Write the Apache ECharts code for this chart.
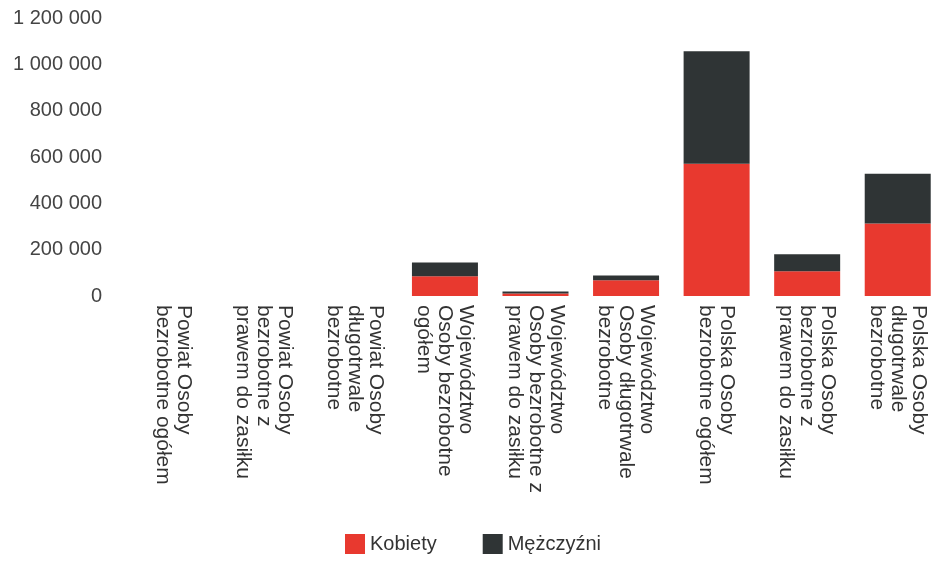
<!DOCTYPE html>
<html lang="pl">
  <head>
    <meta charset="UTF-8" />
    <title>Bezrobotni</title>
    <style>
      * {
        margin: 0;
        padding: 0;
      }
      body {
        background: #fff;
      }
      #chart {
        width: 931px;
        height: 564px;
      }
    </style>
    <script src="https://cdn.jsdelivr.net/npm/echarts@6/dist/echarts.min.js"></script>
  </head>
  <body>
    <div id="chart"></div>
    <script>
      const categories = [
        "Powiat Osoby\nbezrobotne ogółem",
        "Powiat Osoby\nbezrobotne z\nprawem do zasiłku",
        "Powiat Osoby\ndługotrwale\nbezrobotne",
        "Województwo\nOsoby bezrobotne\nogółem",
        "Województwo\nOsoby bezrobotne z\nprawem do zasiłku",
        "Województwo\nOsoby długotrwale\nbezrobotne",
        "Polska Osoby\nbezrobotne ogółem",
        "Polska Osoby\nbezrobotne z\nprawem do zasiłku",
        "Polska Osoby\ndługotrwale\nbezrobotne",
      ];
      const kobiety = [200, 60, 120, 85000, 11000, 68000, 571000, 107000, 313000];
      const mezczyzni = [150, 40, 90, 60000, 8000, 21000, 485000, 73000, 215000];

      const fontFamily = "'Liberation Sans', Arial, sans-serif";
      const chart = echarts.init(document.getElementById("chart"));

      // 1 200 000 — spacja jako separator tysięcy
      const fmt = (v) => String(v).replace(/\B(?=(\d{3})+(?!\d))/g, " ");

      chart.setOption({
        animation: false,
        textStyle: { fontFamily: fontFamily },
        grid: {
          left: 128,
          right: -12,
          top: 18,
          bottom: 268,
          outerBoundsMode: "none",
        },
        legend: {
          bottom: 5,
          left: 340,
          itemGap: 46,
          itemWidth: 20,
          itemHeight: 20,
          icon: "rect",
          textStyle: { fontSize: 20, color: "#333", fontFamily: fontFamily },
          data: ["Kobiety", "Mężczyźni"],
        },
        xAxis: {
          type: "category",
          data: categories,
          axisLine: { show: false },
          axisTick: { show: false },
          axisLabel: {
            interval: 0,
            rotate: -90,
            margin: 9,
            fontSize: 21,
            lineHeight: 21,
            color: "#333",
          },
        },
        yAxis: {
          type: "value",
          min: 0,
          max: 1200000,
          interval: 200000,
          splitLine: { show: false },
          axisLabel: {
            formatter: fmt,
            fontSize: 20,
            color: "#444",
            margin: 26,
          },
        },
        series: [
          {
            name: "Kobiety",
            type: "bar",
            stack: "total",
            barWidth: 66,
            itemStyle: { color: "#e8392f" },
            data: kobiety,
          },
          {
            name: "Mężczyźni",
            type: "bar",
            stack: "total",
            barWidth: 66,
            itemStyle: { color: "#2f3435" },
            data: mezczyzni,
          },
        ],
      });
    </script>
  </body>
</html>
